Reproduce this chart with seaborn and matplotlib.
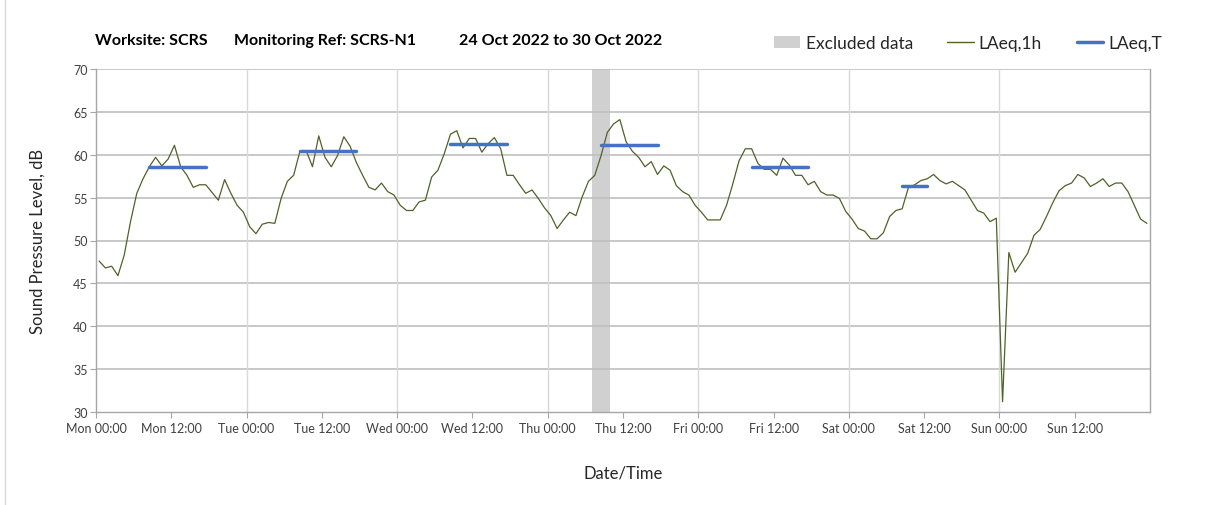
import numpy as np
import pandas as pd
import matplotlib
matplotlib.use('Agg')
import matplotlib.pyplot as plt
import seaborn as sns
from matplotlib.lines import Line2D
from matplotlib.patches import Patch, Rectangle

# hourly LAeq,1h values (dB), Mon 00:00 -> Sun 23:00
mon = [47.6, 46.8, 47.0, 45.9, 48.3, 52.2, 55.5, 57.2, 58.6, 59.7, 58.7, 59.5,
       61.1, 58.6, 57.6, 56.2, 56.5, 56.5, 55.6, 54.7, 57.1, 55.5, 54.1, 53.3]
tue = [51.6, 50.8, 51.9, 52.1, 52.0, 54.9, 56.9, 57.6, 60.4, 60.5, 58.6, 62.2,
       59.7, 58.6, 59.9, 62.1, 61.0, 59.1, 57.6, 56.2, 55.9, 56.7, 55.7, 55.3]
wed = [54.1, 53.5, 53.5, 54.5, 54.7, 57.4, 58.2, 60.1, 62.4, 62.8, 60.8, 61.9,
       61.9, 60.3, 61.3, 62.0, 60.7, 57.6, 57.6, 56.5, 55.5, 55.9, 54.9, 53.8]
thu = [52.9, 51.4, 52.4, 53.3, 52.9, 55.1, 56.9, 57.6, 59.9, 62.6, 63.6, 64.1,
       61.5, 60.4, 59.7, 58.6, 59.2, 57.7, 58.7, 58.2, 56.4, 55.7, 55.3, 54.1]
fri = [53.3, 52.4, 52.4, 52.4, 54.1, 56.6, 59.3, 60.7, 60.7, 59.0, 58.3, 58.3,
       57.6, 59.6, 58.8, 57.6, 57.6, 56.5, 56.9, 55.7, 55.3, 55.3, 54.9, 53.4]
sat = [52.5, 51.4, 51.1, 50.2, 50.2, 50.9, 52.8, 53.5, 53.7, 56.2, 56.5, 57.0,
       57.2, 57.7, 57.0, 56.6, 56.9, 56.4, 55.9, 54.7, 53.5, 53.2, 52.2, 52.6]
sun = [31.2, 48.6, 46.3, 47.4, 48.5, 50.6, 51.3, 52.8, 54.4, 55.8, 56.4, 56.7,
       57.7, 57.3, 56.3, 56.7, 57.2, 56.3, 56.7, 56.7, 55.7, 54.1, 52.5, 52.0]

# LAeq,T per day period (start hour, end hour of the period, level)
period_days = ['Mon', 'Tue', 'Wed', 'Thu', 'Fri', 'Sat']
period_start = [8, 32, 56, 80, 104, 128]
period_end = [17, 41, 65, 89, 113, 132]
period_level = [58.6, 60.4, 61.3, 61.1, 58.6, 56.3]

# excluded data window (hours from Mon 00:00)
excl_start, excl_end = 79, 82

tick_labels = ['Mon 00:00', 'Mon 12:00', 'Tue 00:00', 'Tue 12:00', 'Wed 00:00',
               'Wed 12:00', 'Thu 00:00', 'Thu 12:00', 'Fri 00:00', 'Fri 12:00',
               'Sat 00:00', 'Sat 12:00', 'Sun 00:00', 'Sun 12:00']

title_parts = ['Worksite: SCRS', 'Monitoring Ref: SCRS-N1', '24 Oct 2022 to 30 Oct 2022']

levels = mon + tue + wed + thu + fri + sat + sun
df = pd.DataFrame({'hour': np.arange(len(levels)) + 0.5, 'level': levels})

rows = []
for d, s, e, lv in zip(period_days, period_start, period_end, period_level):
    rows.append({'day': d, 'hour': s + 0.5, 'level': lv})
    rows.append({'day': d, 'hour': e + 0.5, 'level': lv})
df_t = pd.DataFrame(rows)

sns.set_style('white')
plt.rcParams['font.family'] = ['Lato', 'DejaVu Sans']

green = '#4f6228'
blue = '#4472c4'
grey_band = '#d0d0d0'
text_col = '#262626'

fig = plt.figure(figsize=(12.08, 5.06), dpi=100)
ax = fig.add_axes([96 / 1208, 1 - 413 / 506, (1150 - 96) / 1208, (413 - 70) / 506])

ax.axvspan(excl_start, excl_end, color=grey_band, lw=0, zorder=0)
sns.lineplot(data=df, x='hour', y='level', color=green, lw=0.9, ax=ax, zorder=3)
sns.lineplot(data=df_t, x='hour', y='level', units='day', estimator=None,
             color=blue, lw=2.5, ax=ax, zorder=4)

ax.set_xlim(0, 168)
ax.set_ylim(30, 70)
ax.set_xticks(np.arange(0, 168, 12))
ax.set_xticklabels(tick_labels)
ax.set_yticks(np.arange(30, 71, 5))

# grid: horizontal every 5 dB, vertical at each midnight
for yv in np.arange(35, 71, 5):
    ax.axhline(yv, color='#bfbfbf', lw=1.2, zorder=1)
for xv in np.arange(24, 168, 24):
    ax.axvline(xv, color='#d9d9d9', lw=1.0, zorder=1)

ax.spines['top'].set_visible(False)
for side in ['left', 'bottom', 'right']:
    ax.spines[side].set_color('#a6a6a6')
    ax.spines[side].set_linewidth(1.0)

ax.tick_params(axis='both', which='major', direction='out', length=4, width=0.8,
               color='#a6a6a6', labelsize=9, labelcolor='#404040', left=True, bottom=True)
ax.tick_params(axis='x', pad=3)
ax.tick_params(axis='y', pad=2)

ax.set_xlabel('Date/Time', fontsize=12, color=text_col, labelpad=22)
ax.set_ylabel('Sound Pressure Level, dB', fontsize=12, color=text_col, labelpad=20)

for part, px in zip(title_parts, [95, 234, 459]):
    fig.text(px / 1208, 1 - 41 / 506, part, fontsize=11.5, fontweight='bold',
             color='black', ha='left', va='center')

handles = [Patch(facecolor=grey_band, edgecolor='none', label='Excluded data'),
           Line2D([], [], color=green, lw=1.0, label='LAeq,1h'),
           Line2D([], [], color=blue, lw=2.5, label='LAeq,T')]
ax.legend(handles=handles, loc='center', bbox_to_anchor=(968 / 1208, 1 - 44 / 506),
          bbox_transform=fig.transFigure, ncol=3, frameon=False, fontsize=12.5,
          handlelength=1.5, handleheight=0.75, handletextpad=0.3, columnspacing=2.0,
          labelcolor=text_col)

fig.add_artist(Rectangle((5 / 1208, -0.05), 1.2, 1.2, fill=False, edgecolor='#d9d9d9',
                         lw=1.0, transform=fig.transFigure))

fig.savefig('out.png', dpi=100)
